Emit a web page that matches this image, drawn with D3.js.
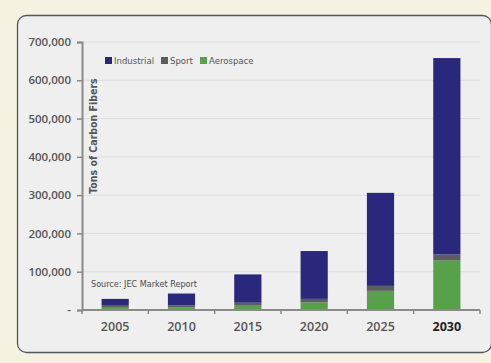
<!DOCTYPE html>
<html>
<head>
<meta charset="utf-8">
<script src="https://cdn.jsdelivr.net/npm/d3@7"></script>
<style>
  html, body { margin: 0; padding: 0; background: #f6f2e2; }
  svg { display: block; }
  .eje text { font-family: "Open Sans", "DejaVu Sans", sans-serif; }
  .condensada { font-family: "Liberation Sans Narrow", "DejaVu Sans Condensed", sans-serif; }
</style>
</head>
<body>
<div id="chart"></div>
<script>
const anios = ["2005", "2010", "2015", "2020", "2025", "2030"];
const industrial = [16000, 31000, 74000, 125000, 243000, 513000];
const sport = [7000, 5000, 6000, 9000, 13000, 16000];
const aerospace = [6000, 7000, 13000, 20000, 50000, 129000];
const series = ["Aerospace", "Sport", "Industrial"];
const ticksY = [0, 100000, 200000, 300000, 400000, 500000, 600000, 700000];

const colores = {
  Industrial: "#29287c",
  Sport: "#5b5d5e",
  Aerospace: "#58a14b"
};

const width = 491, height = 363;
const margen = { left: 82, right: 11, top: 42, bottom: 53 };

const filas = anios.map((a, i) => ({
  anio: a,
  Industrial: industrial[i],
  Sport: sport[i],
  Aerospace: aerospace[i]
}));

const svg = d3.select("#chart").append("svg")
  .attr("width", width)
  .attr("height", height);

// panel
svg.append("rect")
  .attr("x", 17.5).attr("y", 15.5)
  .attr("width", 474).attr("height", 337)
  .attr("rx", 9)
  .attr("fill", "#efefef")
  .attr("stroke", "#50555e")
  .attr("stroke-width", 1.3);

const x = d3.scaleBand()
  .domain(anios)
  .range([margen.left, width - margen.right])
  .paddingInner(0.59)
  .paddingOuter(0.295);

const y = d3.scaleLinear()
  .domain([0, 700000])
  .range([height - margen.bottom, margen.top]);

// rejilla
svg.append("g")
  .selectAll("line")
  .data(ticksY.slice(1))
  .join("line")
  .attr("x1", margen.left)
  .attr("x2", width - margen.right)
  .attr("y1", d => y(d))
  .attr("y2", d => y(d))
  .attr("stroke", "#dcdcdc")
  .attr("stroke-width", 1);

// barras apiladas
const pila = d3.stack().keys(series)(filas);

svg.append("g")
  .selectAll("g")
  .data(pila)
  .join("g")
  .attr("fill", d => colores[d.key])
  .selectAll("rect")
  .data(d => d)
  .join("rect")
  .attr("x", d => x(d.data.anio))
  .attr("width", x.bandwidth())
  .attr("y", d => y(d[1]))
  .attr("height", d => y(d[0]) - y(d[1]));

// eje Y
const ejeY = svg.append("g")
  .attr("class", "eje")
  .attr("transform", `translate(${margen.left},0)`)
  .call(d3.axisLeft(y)
    .tickValues(ticksY)
    .tickSize(5)
    .tickPadding(6)
    .tickFormat(d => d === 0 ? "-" : d3.format(",")(d)));

ejeY.select(".domain").attr("stroke", "#8a8a8a").attr("stroke-width", 2);
ejeY.selectAll(".tick line").attr("stroke", "#8a8a8a").attr("stroke-width", 1.5);
ejeY.selectAll(".tick text")
  .attr("fill", "#555")
  .style("font-size", "11.5px")
  .style("font-weight", "600");

// eje X
const base = y(0);
const bordes = d3.range(anios.length + 1).map(i => margen.left + i * x.step());

svg.append("line")
  .attr("x1", margen.left).attr("x2", width - margen.right)
  .attr("y1", base).attr("y2", base)
  .attr("stroke", "#8a8a8a").attr("stroke-width", 2);

svg.append("g")
  .selectAll("line")
  .data(bordes)
  .join("line")
  .attr("x1", d => d).attr("x2", d => d)
  .attr("y1", base).attr("y2", base + 4)
  .attr("stroke", "#8a8a8a").attr("stroke-width", 1.5);

svg.append("g")
  .attr("class", "eje")
  .selectAll("text")
  .data(anios)
  .join("text")
  .attr("x", d => x(d) + x.bandwidth() / 2)
  .attr("y", base + 21)
  .attr("text-anchor", "middle")
  .attr("fill", d => d === "2030" ? "#222" : "#555")
  .style("font-size", "12.5px")
  .style("font-weight", d => d === "2030" ? "700" : "600")
  .text(d => d);

// título eje Y
svg.append("text")
  .attr("class", "condensada")
  .attr("transform", `translate(97,136) rotate(-90)`)
  .attr("text-anchor", "middle")
  .attr("fill", "#555")
  .style("font-size", "10.5px")
  .style("font-weight", "600")
  .text("Tons of Carbon Fibers");

// fuente
svg.append("text")
  .attr("class", "condensada")
  .attr("x", 91)
  .attr("y", 287)
  .attr("fill", "#4a4a4a")
  .style("font-size", "9px")
  .text("Source: JEC Market Report");

// leyenda
const leyenda = [
  { nombre: "Industrial", x: 105 },
  { nombre: "Sport", x: 161 },
  { nombre: "Aerospace", x: 200 }
];

const itemLeyenda = svg.append("g")
  .selectAll("g")
  .data(leyenda)
  .join("g")
  .attr("transform", d => `translate(${d.x},57)`);

itemLeyenda.append("rect")
  .attr("width", 7).attr("height", 7)
  .attr("fill", d => colores[d.nombre]);

itemLeyenda.append("text")
  .attr("class", "condensada")
  .attr("x", 9)
  .attr("y", 7)
  .attr("fill", "#555")
  .style("font-size", "9.5px")
  .text(d => d.nombre);
</script>
</body>
</html>
